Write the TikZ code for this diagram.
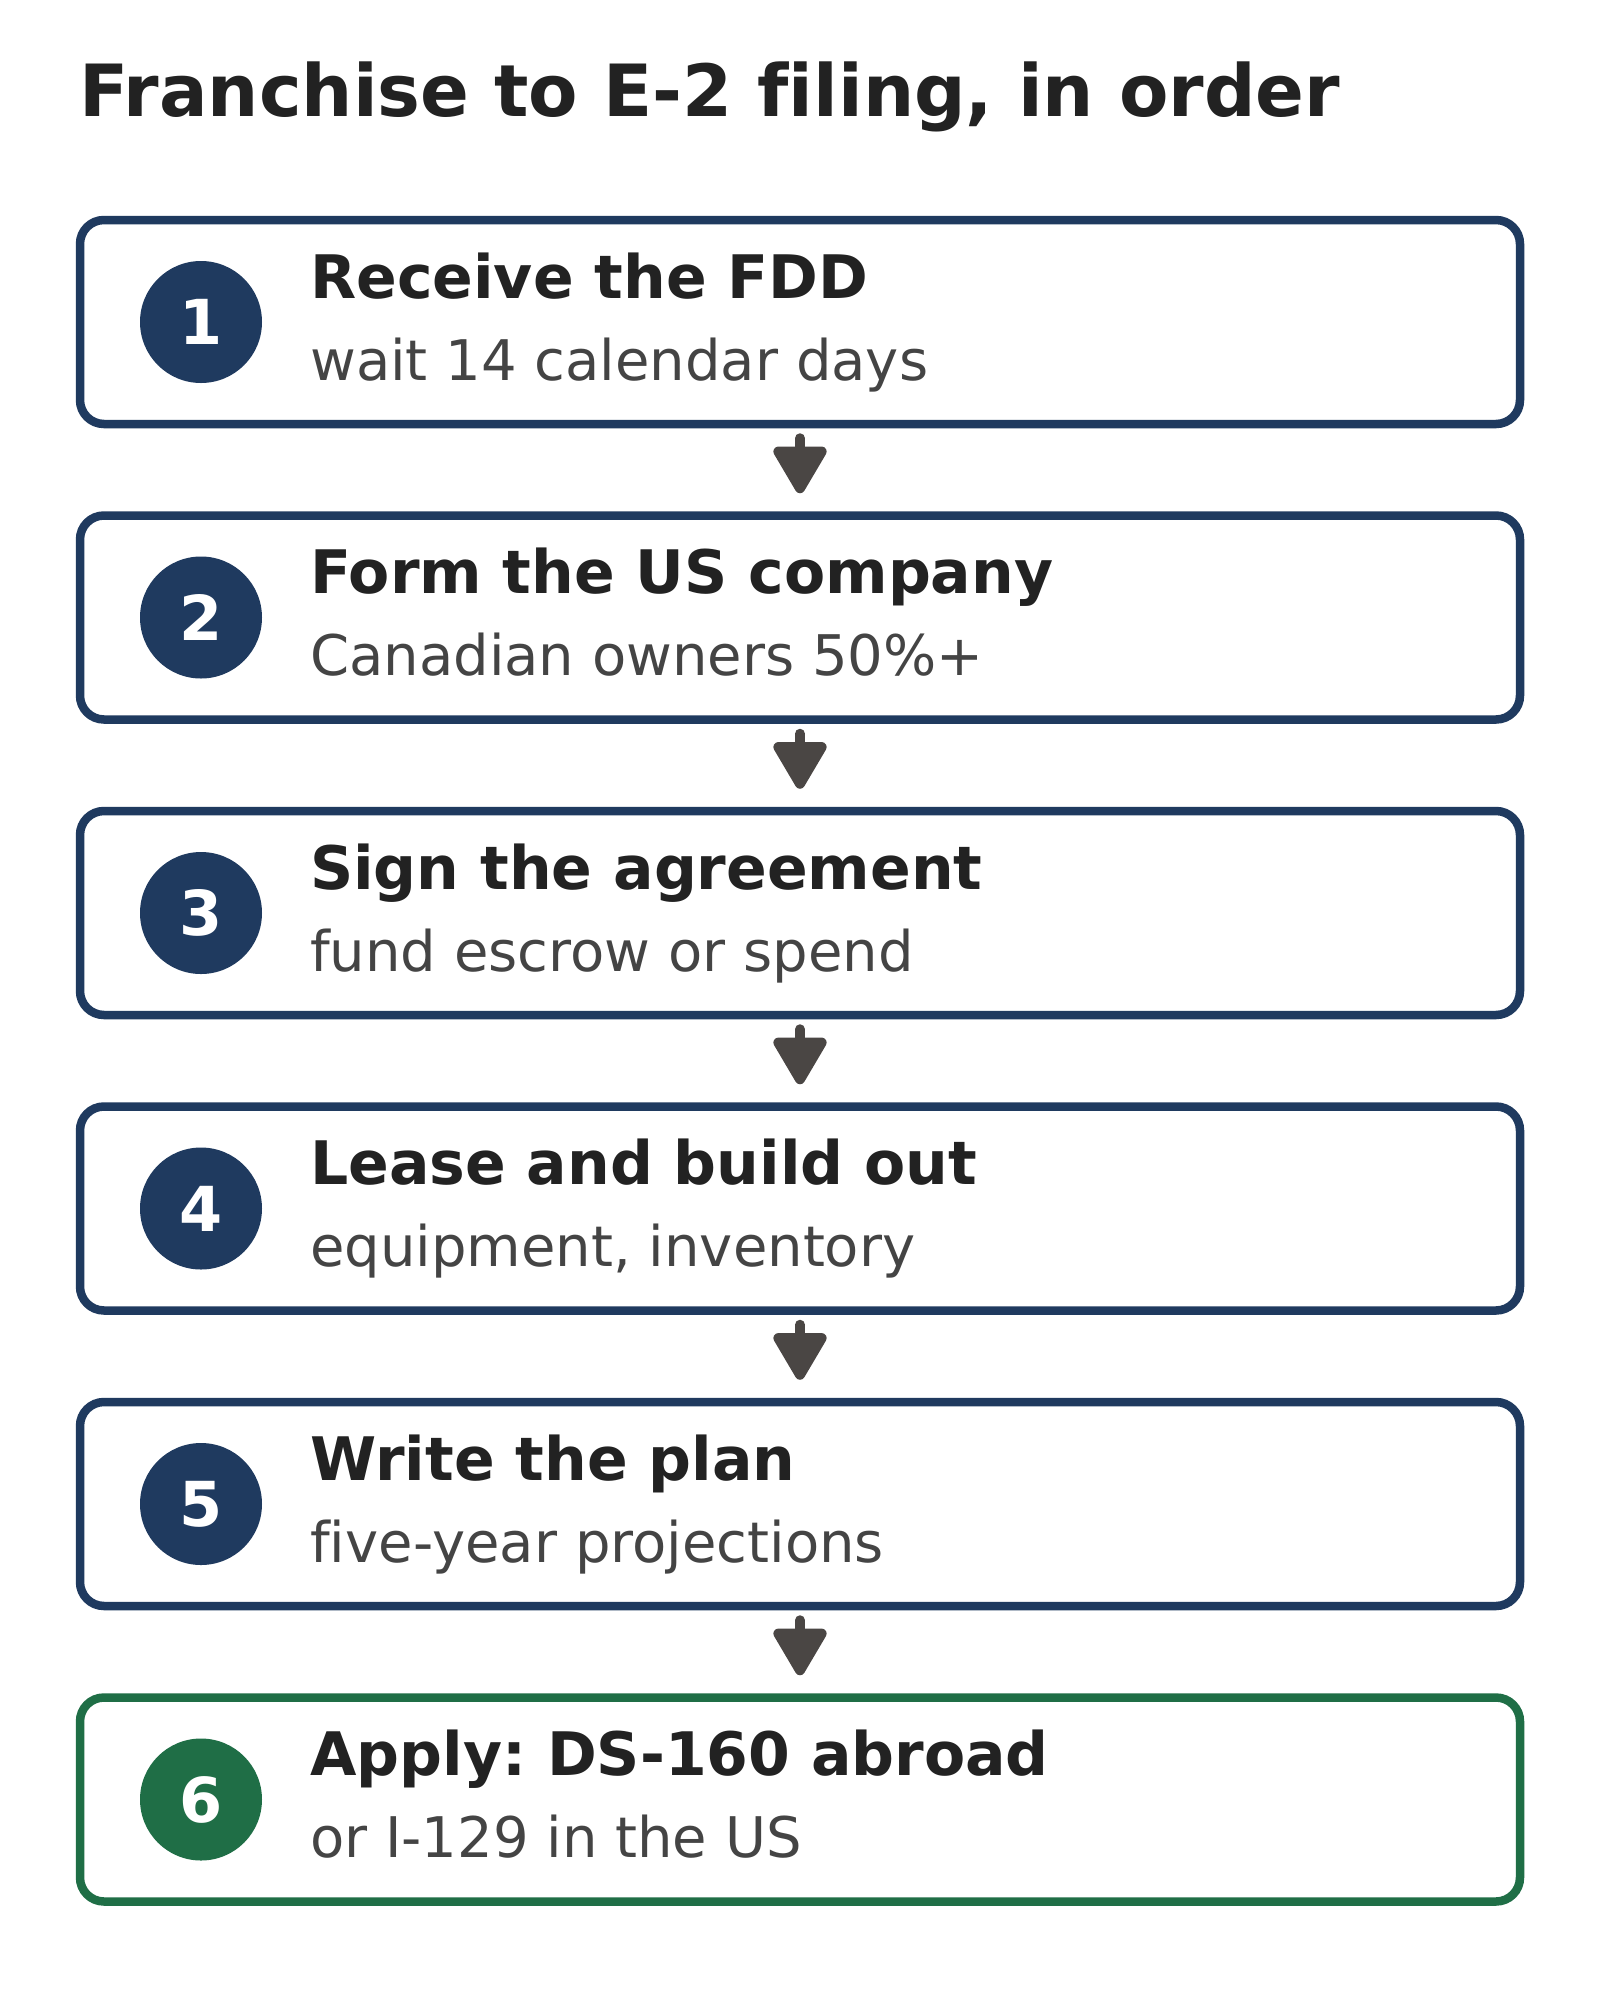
\documentclass[tikz,border=0pt]{standalone}
\usepackage{fontspec}
\setmainfont{DejaVu Sans}[Ligatures=NoCommon]
\usetikzlibrary{arrows.meta}
\definecolor{navy}{HTML}{1F3A5F}
\definecolor{grn}{HTML}{1F6E46}
\definecolor{ink}{HTML}{222222}
\definecolor{subc}{HTML}{444444}
\definecolor{arrc}{HTML}{4A4644}
\frenchspacing
\begin{document}
\begin{tikzpicture}[x=1pt,y=-1pt,
  stepbox/.style={draw=#1, line width=8.5pt, rounded corners=24pt, minimum width=1440pt, minimum height=204pt, inner sep=0pt, fill=white},
  badge/.style={circle, fill=#1, minimum size=122pt, inner sep=0pt, text=white, font=\fontsize{62}{72}\selectfont\bfseries},
  head/.style={anchor=base west, inner sep=0pt, text=ink, font=\fontsize{60}{72}\selectfont\bfseries},
  subt/.style={anchor=base west, inner sep=0pt, text=subc, font=\fontsize{56}{66}\selectfont},
  flow/.style={draw=arrc, line width=10pt, line cap=round, -{Triangle[width=58pt,length=52pt,round]}, shorten <=10pt, shorten >=18pt}
]
\useasboundingbox (0,0) rectangle (1600,2000);
\fill[white] (0,0) rectangle (1600,2000);
\node[anchor=base west, inner sep=0pt, text=ink, font=\fontsize{72}{86}\selectfont\bfseries] (title) at (79,116) {Franchise to E-2 filing, in order};

\node[stepbox=navy] (b1) at (800,322) {};
\node[badge=navy] (c1) at (201,322) {1};
\node[head] (h1) at (310,298) {Receive the FDD};
\node[subt] (s1) at (310,380) {wait 14 calendar days};

\node[stepbox=navy] (b2) at (800,617.5) {};
\node[badge=navy] (c2) at (201,617.5) {2};
\node[head] (h2) at (310,593.5) {Form the US company};
\node[subt] (s2) at (310,675.5) {Canadian owners 50\%+};

\node[stepbox=navy] (b3) at (800,913) {};
\node[badge=navy] (c3) at (201,913) {3};
\node[head] (h3) at (310,889) {Sign the agreement};
\node[subt] (s3) at (310,971) {fund escrow or spend};

\node[stepbox=navy] (b4) at (800,1208.5) {};
\node[badge=navy] (c4) at (201,1208.5) {4};
\node[head] (h4) at (310,1184.5) {Lease and build out};
\node[subt] (s4) at (310,1266.5) {equipment, inventory};

\node[stepbox=navy] (b5) at (800,1504) {};
\node[badge=navy] (c5) at (201,1504) {5};
\node[head] (h5) at (310,1480) {Write the plan};
\node[subt] (s5) at (310,1562) {five-year projections};

\node[stepbox=grn] (b6) at (800,1799.5) {};
\node[badge=grn] (c6) at (201,1799.5) {6};
\node[head] (h6) at (310,1775.5) {Apply: DS-160 abroad};
\node[subt] (s6) at (310,1857.5) {or I-129 in the US};

\draw[flow] (b1) -- (b2);
\draw[flow] (b2) -- (b3);
\draw[flow] (b3) -- (b4);
\draw[flow] (b4) -- (b5);
\draw[flow] (b5) -- (b6);
\end{tikzpicture}
\end{document}
